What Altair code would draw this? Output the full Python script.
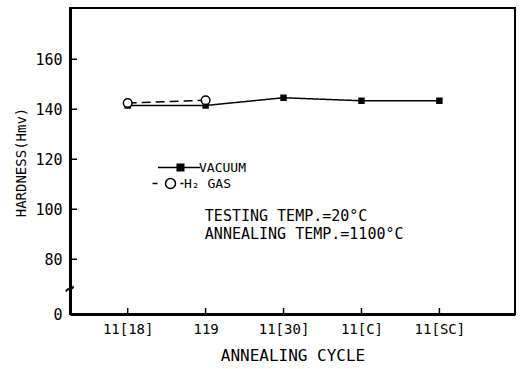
import json
import altair as alt
import pandas as pd

# ---- data ----
categories = ["11[18]", "119", "11[30]", "11[C]", "11[SC]"]
series_names = ["VACUUM", "H₂ GAS"]
vacuum_hardness = [141.5, 141.5, 144.6, 143.4, 143.4]
h2_hardness = [142.5, 143.6]          # only first two cycles measured
y_tick_values = [80, 100, 120, 140, 160]
notes = ["TESTING TEMP.=20°C", "ANNEALING TEMP.=1100°C"]

rows = []
for i, v in enumerate(vacuum_hardness):
    rows.append({"series": series_names[0], "idx": i, "cycle": categories[i], "hardness": v})
for i, v in enumerate(h2_hardness):
    rows.append({"series": series_names[1], "idx": i, "cycle": categories[i], "hardness": v})
df = pd.DataFrame(rows)

FONT = "DejaVu Sans Mono"
Y_MIN, Y_MAX = 58.1, 180.5
X_MIN, X_MAX = -0.74, 4.97

x_scale = alt.Scale(domain=[X_MIN, X_MAX], nice=False, zero=False)
y_scale = alt.Scale(domain=[Y_MIN, Y_MAX], nice=False, zero=False)

x_axis = alt.Axis(
    values=list(range(len(categories))),
    labelExpr=json.dumps(categories) + "[datum.value]",
    title="ANNEALING CYCLE",
    labelFontSize=14, labelPadding=8, labelFlush=False, labelOverlap=False,
    titleFontSize=16, titleFontWeight="normal", titleY=41, titleBaseline="middle",
    domainWidth=3,
)
y_axis = alt.Axis(
    values=[Y_MIN] + y_tick_values,
    labelExpr="datum.value < 70 ? '0' : datum.label",
    title="HARDNESS(Hmv)",
    labelFontSize=15, labelPadding=8, labelFlush=False, labelOverlap=False,
    titleFontSize=14, titleFontWeight="normal",
    titleX=-49, titleY=154, titleAngle=270, titleAlign="center", titleBaseline="middle",
    domainWidth=3,
)

base = alt.Chart(df)
X = alt.X("idx:Q", scale=x_scale, axis=x_axis)
Y = alt.Y("hardness:Q", scale=y_scale, axis=y_axis)

lines = base.mark_line(color="black", strokeWidth=1.5).encode(
    x=X, y=Y,
    strokeDash=alt.StrokeDash("series:N", scale=alt.Scale(domain=series_names, range=[[1, 0], [9, 5]]), legend=None),
)

pts_vac = base.transform_filter(alt.datum.series == series_names[0]).mark_point(
    shape="square", filled=True, color="black", size=42, opacity=1
).encode(x="idx:Q", y="hardness:Q")

pts_h2 = base.transform_filter(alt.datum.series == series_names[1]).mark_point(
    shape="circle", fill="white", stroke="black", strokeWidth=1.5, size=75, opacity=1, filled=True
).encode(x="idx:Q", y="hardness:Q")

# legend glyphs: line + marker in one custom symbol path (unit = 5 px)
path_vac = "M-4.5,0H4M-0.65,-0.65H0.65V0.65H-0.65Z"
path_h2 = "M-5.0,0H-4.0M-0.4,0A1,1 0 1,1 -2.4,0A1,1 0 1,1 -0.4,0M0.6,0H1.2"


def legend_layer(name, path, fill, lx, ly, loff):
    leg = alt.Legend(
        title=None, orient="none", legendX=lx, legendY=ly, padding=0,
        labelFont=FONT, labelFontSize=13, labelColor="black", labelOffset=loff, labelLimit=0,
        symbolSize=100, symbolStrokeColor="black", symbolStrokeWidth=1.5, symbolOpacity=1,
    )
    return base.transform_filter(alt.datum.series == name).mark_point(filled=True, size=0).encode(
        x="idx:Q", y="hardness:Q",
        shape=alt.Shape("series:N", scale=alt.Scale(domain=[name], range=[path]), legend=leg),
        fill=alt.Fill("series:N", scale=alt.Scale(domain=[name], range=[fill]), legend=leg),
        stroke=alt.Stroke("series:N", scale=alt.Scale(domain=[name], range=["black"]), legend=leg),
    )


leg_vac = legend_layer(series_names[0], path_vac, "black", 104, 153, 12)
leg_h2 = legend_layer(series_names[1], path_h2, "white", 101, 169, 0)

# inward tick marks
xticks = alt.Chart(pd.DataFrame({"idx": list(range(len(categories)))})).mark_rule(
    color="black", strokeWidth=1.5
).encode(x="idx:Q", y=alt.value(306), y2=alt.value(300))
yticks = alt.Chart(pd.DataFrame({"hardness": y_tick_values})).mark_rule(
    color="black", strokeWidth=1.5
).encode(y="hardness:Q", x=alt.value(0), x2=alt.value(7))

# annotation text (placed in data coordinates)
ann = alt.Chart(pd.DataFrame({"text": notes, "idx": [0.99, 0.99], "hardness": [97.5, 90.3]})).mark_text(
    align="left", baseline="middle", font=FONT, fontSize=15, color="black"
).encode(x="idx:Q", y="hardness:Q", text="text:N")

# axis break mark
brk = alt.Chart(pd.DataFrame({"idx": [X_MIN], "hardness": [67.9], "t": ["~"]})).mark_text(
    font=FONT, fontSize=18, fontWeight="bold", angle=330, color="black"
).encode(x="idx:Q", y="hardness:Q", text="t:N")

chart = alt.layer(leg_vac, leg_h2, lines, pts_vac, pts_h2, xticks, yticks, ann, brk).resolve_scale(
    shape="independent", fill="independent", stroke="independent"
).resolve_legend(
    shape="independent", fill="independent", stroke="independent"
).properties(
    width=445, height=306,
    autosize=alt.AutoSizeParams(type="none"),
    padding={"left": 70, "top": 8, "right": 5, "bottom": 55},
    background="white",
).configure_view(
    stroke="black", strokeWidth=2
).configure_axis(
    grid=False, ticks=False, tickSize=0, domainColor="black",
    labelFont=FONT, titleFont=FONT, labelColor="black", titleColor="black",
)

chart.save("out.html", embed_options={"renderer": "svg", "actions": False})
